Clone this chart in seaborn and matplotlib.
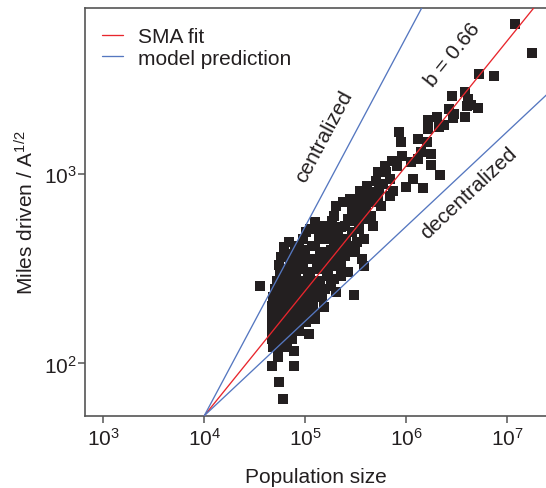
import numpy as np
import pandas as pd
import matplotlib
matplotlib.use("Agg")
import matplotlib.pyplot as plt
import seaborn as sns
from matplotlib.lines import Line2D

# ---- data (log10 values) ----
log_pop = [
    7.079, 7.245, 6.717, 6.866, 6.448, 6.579, 6.614, 6.710, 6.597, 6.638,
    6.424, 6.476, 6.459, 6.579, 6.210, 6.303, 6.321, 6.372, 6.210, 5.931,
    5.952, 6.114, 6.200, 6.148, 6.245, 6.241, 6.338, 6.166, 6.062, 5.993,
    5.855, 5.959, 5.907, 5.786, 5.717, 5.838, 5.769, 5.838, 5.752, 5.872,
    6.045, 6.114, 5.700, 5.803,
    5.614, 5.545, 5.597, 5.683, 5.648, 5.562, 5.493, 5.372, 5.459, 5.424,
    5.286, 5.269, 5.648, 5.666, 5.579, 5.493, 5.562, 5.579, 5.424, 5.355,
    5.483, 5.528, 5.459, 5.390, 5.424, 5.510, 5.372, 5.597, 5.338, 5.286,
    5.390,
    5.097, 5.183, 5.010, 4.941, 4.838, 4.786, 4.555, 5.252, 5.217, 5.131,
    5.062, 5.286, 5.234, 5.148, 5.079, 4.993, 4.907, 4.976, 5.183, 5.269,
    5.114, 5.028, 5.217, 5.286, 5.355,
    4.752, 4.821, 4.907,
    4.717, 4.786, 4.855, 4.941, 5.010, 5.079, 5.148,
    4.700, 4.769, 4.838, 4.907, 4.976, 5.045, 5.114, 5.200,
    4.683, 4.752, 4.821, 4.890, 4.959, 5.028, 5.097, 5.166,
    4.672, 4.734, 4.803, 4.872, 4.941, 5.010, 5.079,
    4.666, 4.734, 4.803, 4.872, 4.941, 5.010, 5.097,
    4.666, 4.728, 4.797, 4.866, 4.934, 5.010,
    4.666, 4.728, 4.797, 4.866, 4.941,
    4.672, 4.734, 4.803, 4.872,
    4.683, 4.752, 4.821,
    4.890, 4.890, 4.734, 4.672, 4.741, 4.779, 5.034, 5.183, 5.303, 5.097,
    5.166, 5.252,
    5.528, 5.441, 5.631, 5.717, 5.734,
    4.976, 5.045, 5.166, 5.321, 5.303, 5.000, 5.100, 5.150, 5.200, 5.250,
    5.300, 5.350, 5.320, 5.400, 5.450, 5.500, 5.550, 5.600, 5.050, 4.950,
    4.900, 4.850, 5.120, 5.220, 5.350, 4.760, 4.810, 4.880, 4.740, 4.800,
]
log_miles = [
    3.792, 3.637, 3.528, 3.519, 3.414, 3.431, 3.396, 3.347, 3.361, 3.364,
    3.343, 3.317, 3.296, 3.299, 3.287, 3.299, 3.246, 3.259, 3.238, 3.224,
    3.167, 3.185, 3.167, 3.114, 3.106, 3.048, 2.996, 2.924, 2.974, 2.933,
    3.070, 3.097, 3.044, 3.044, 3.009, 2.974, 2.947, 2.886, 2.833, 2.912,
    3.062, 3.079, 2.965, 3.009,
    2.938, 2.912, 2.868, 2.903, 2.850, 2.833, 2.798, 2.850, 2.815, 2.762,
    2.780, 2.754, 2.780, 2.727, 2.657, 2.586, 2.551, 2.516, 2.481, 2.533,
    2.361, 2.710, 2.692, 2.727, 2.621, 2.639, 2.657, 2.762, 2.586, 2.516,
    2.569,
    2.748, 2.692, 2.692, 2.621, 2.639, 2.613, 2.407, 2.710, 2.657, 2.657,
    2.621, 2.639, 2.586, 2.586, 2.551, 2.569, 2.551, 2.516, 2.516, 2.533,
    2.498, 2.481, 2.463, 2.445, 2.463,
    2.481, 2.481, 2.481,
    2.437, 2.437, 2.437, 2.437, 2.437, 2.437, 2.437,
    2.393, 2.393, 2.393, 2.393, 2.393, 2.393, 2.393, 2.393,
    2.349, 2.349, 2.349, 2.349, 2.349, 2.349, 2.349, 2.349,
    2.305, 2.305, 2.305, 2.305, 2.305, 2.305, 2.305,
    2.261, 2.261, 2.261, 2.261, 2.261, 2.261, 2.261,
    2.217, 2.217, 2.217, 2.217, 2.217, 2.217,
    2.173, 2.173, 2.173, 2.173, 2.173,
    2.129, 2.129, 2.129, 2.129,
    2.085, 2.085, 2.085,
    2.067, 1.988, 2.032, 1.988, 1.900, 1.812, 2.155, 2.296, 2.379, 2.234,
    2.357, 2.410,
    2.868, 2.868, 2.886, 2.868, 2.921,
    2.657, 2.710, 2.727, 2.692, 2.833, 2.600, 2.620, 2.700, 2.550, 2.600,
    2.680, 2.720, 2.620, 2.650, 2.750, 2.750, 2.800, 2.820, 2.470, 2.500,
    2.600, 2.550, 2.550, 2.500, 2.500, 2.560, 2.580, 2.520, 2.520, 2.500,
]

# model lines: common origin and exponents
origin_pop = 1e4
origin_miles = 10 ** 1.724
line_names = ["SMA fit", "centralized", "decentralized"]
line_exponents = [0.66, 1.0, 0.5]
line_pop_end = 3e7

x_ticks = [1e3, 1e4, 1e5, 1e6, 1e7]
x_ticklabels = ["$10^{3}$", "$10^{4}$", "$10^{5}$", "$10^{6}$", "$10^{7}$"]
y_ticks = [1e2, 1e3]
y_ticklabels = ["$10^{2}$", "$10^{3}$"]

# ---- style ----
sns.set_style("ticks")
plt.rcParams["font.family"] = ["Liberation Sans", "DejaVu Sans"]
plt.rcParams["mathtext.default"] = "regular"
TXT = "#231f20"
RED = "#e8262d"
BLUE = "#5577c0"
SPINE = "#555555"
FS = 15

W, H = 546, 489
fig = plt.figure(figsize=(W / 100, H / 100), dpi=100)
left, right, top, bottom = 85.2, 546, 9.3, 416.7
ax = fig.add_axes([left / W, 1 - bottom / H, (right - left) / W, (bottom - top) / H])

df = pd.DataFrame({"pop": 10 ** np.array(log_pop), "miles": 10 ** np.array(log_miles)})
sns.scatterplot(data=df, x="pop", y="miles", ax=ax, marker="s", s=42,
                color=TXT, linewidth=0, zorder=2, legend=False)

line_rows = []
for name, b in zip(line_names, line_exponents):
    for xp in [origin_pop, line_pop_end]:
        line_rows.append({"name": name, "pop": xp,
                          "miles": origin_miles * (xp / origin_pop) ** b})
ldf = pd.DataFrame(line_rows)
colors = {"SMA fit": RED, "centralized": BLUE, "decentralized": BLUE}
for name in line_names:
    sub = ldf[ldf["name"] == name]
    sns.lineplot(data=sub, x="pop", y="miles", ax=ax, color=colors[name],
                 linewidth=0.95, zorder=3, legend=False, estimator=None, sort=False)

ax.set_xscale("log")
ax.set_yscale("log")
ax.set_xlim(10 ** 2.821, 10 ** 7.383)
ax.set_ylim(10 ** 1.724, 10 ** 3.875)
ax.set_xticks(x_ticks)
ax.set_xticklabels(x_ticklabels)
ax.set_yticks(y_ticks)
ax.set_yticklabels(y_ticklabels)
ax.minorticks_off()
ax.tick_params(axis="both", which="major", direction="out", length=5, width=1.1,
               color=SPINE, labelcolor=TXT, labelsize=FS)
ax.tick_params(axis="x", pad=3)
ax.tick_params(axis="y", pad=1)

for s in ["left", "bottom", "top"]:
    ax.spines[s].set_color(SPINE)
    ax.spines[s].set_linewidth(1.2)
ax.spines["right"].set_visible(False)

ax.set_xlabel("Population size", fontsize=FS, color=TXT, labelpad=13)
ax.set_ylabel("Miles driven / A$^{1/2}$", fontsize=FS, color=TXT, labelpad=5)

# legend
handles = [Line2D([], [], color=RED, lw=0.95), Line2D([], [], color=BLUE, lw=0.95)]
leg = ax.legend(handles, ["SMA fit", "model prediction"], loc="upper left",
                frameon=False, fontsize=FS, handlelength=1.0, handletextpad=0.75,
                labelspacing=0.1, borderpad=0.0, borderaxespad=0.0,
                bbox_to_anchor=(0.036, 0.953))
for t in leg.get_texts():
    t.set_color(TXT)

# rotated annotations
def angle(b):
    p1 = ax.transData.transform((1e4, 100))
    p2 = ax.transData.transform((1e5, 100 * 10 ** b))
    return np.degrees(np.arctan2(p2[1] - p1[1], p2[0] - p1[0]))

ax.text(10 ** 5.183, 10 ** 3.202, "centralized", rotation=angle(1.0), ha="center",
        va="center", fontsize=FS, color=TXT, rotation_mode="anchor")
ax.text(10 ** 6.459, 10 ** 3.634, "b = 0.66", rotation=angle(0.66), ha="center",
        va="center", fontsize=FS, color=TXT, rotation_mode="anchor")
ax.text(10 ** 6.614, 10 ** 2.903, "decentralized", rotation=angle(0.5), ha="center",
        va="center", fontsize=FS, color=TXT, rotation_mode="anchor")

fig.savefig("out.png", dpi=100)
